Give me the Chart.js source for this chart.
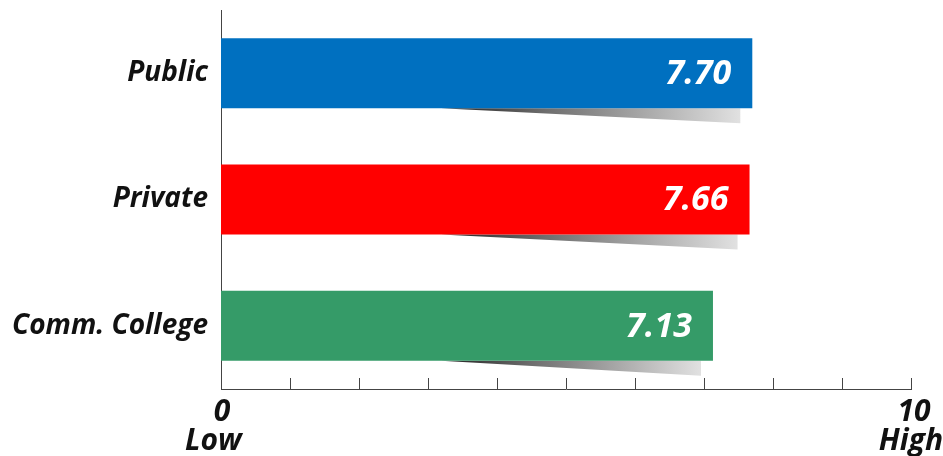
<!DOCTYPE html>
<html>
<head>
<meta charset="utf-8">
<script src="https://cdn.jsdelivr.net/npm/chart.js@4"></script>
<style>
  html, body { margin: 0; padding: 0; background: #fff; }
  #wrap { width: 943px; height: 456px; }
</style>
</head>
<body>
<div id="wrap"><canvas id="chart" width="943" height="456"></canvas></div>
<script>
const categories = ["Public", "Private", "Comm. College"];
const scores = [7.70, 7.66, 7.13];
const barColors = ["#0070C0", "#FF0000", "#359B68"];
const axisMin = 0;
const axisMax = 10;
const endLabels = [["0", "Low"], ["10", "High"]];

const FONT = "'Open Sans', 'DejaVu Sans', sans-serif";

// grey wedge under each bar, plus value text inside bar end
const barDecor = {
    id: "barDecor",
    beforeDatasetsDraw(chart) {
        const ctx = chart.ctx;
        const area = chart.chartArea;
        chart.getDatasetMeta(0).data.forEach(bar => {
            const bottom = bar.y + bar.height / 2;
            const x0 = area.left + 220;
            const x1 = bar.x - 12;
            const g = ctx.createLinearGradient(x0, 0, x1, 0);
            g.addColorStop(0, "rgba(30,30,30,1)");
            g.addColorStop(0.35, "rgba(110,110,110,1)");
            g.addColorStop(1, "rgba(225,225,225,1)");
            ctx.save();
            ctx.fillStyle = g;
            ctx.beginPath();
            ctx.moveTo(x0, bottom);
            ctx.lineTo(x1, bottom);
            ctx.lineTo(x1, bottom + 15);
            ctx.closePath();
            ctx.fill();
            ctx.restore();
        });
    },
    afterDatasetsDraw(chart) {
        const ctx = chart.ctx;
        ctx.save();
        ctx.fillStyle = "#fff";
        ctx.textAlign = "right";
        ctx.textBaseline = "middle";
        ctx.font = "italic bold 34px " + FONT;
        chart.getDatasetMeta(0).data.forEach((bar, i) => {
            ctx.fillText(scores[i].toFixed(2), bar.x - 21, bar.y + 1);
        });
        ctx.restore();
    },
    afterDraw(chart) {
        const ctx = chart.ctx;
        const xs = chart.scales.x;
        const bottom = chart.chartArea.bottom;
        ctx.save();
        ctx.strokeStyle = "#444";
        ctx.lineWidth = 1;
        for (let v = axisMin + 1; v <= axisMax; v++) {
            const px = Math.round(xs.getPixelForValue(v)) + 0.5;
            ctx.beginPath();
            ctx.moveTo(px, bottom);
            ctx.lineTo(px, bottom - 11);
            ctx.stroke();
        }
        ctx.fillStyle = "#111";
        ctx.font = "italic bold 30px " + FONT;
        ctx.textBaseline = "alphabetic";
        const p0 = xs.getPixelForValue(axisMin);
        const p1 = xs.getPixelForValue(axisMax);
        ctx.textAlign = "center";
        ctx.fillText(endLabels[0][0], p0 + 1, bottom + 32);
        ctx.fillText(endLabels[1][0], p1 + 3, bottom + 32);
        ctx.textAlign = "left";
        ctx.fillText(endLabels[0][1], p0 - 36, bottom + 61);
        ctx.textAlign = "right";
        ctx.fillText(endLabels[1][1], p1 + 32, bottom + 61);
        ctx.restore();
    }
};

new Chart(document.getElementById("chart"), {
    type: "bar",
    data: {
        labels: categories,
        datasets: [{
            data: scores,
            backgroundColor: barColors,
            barPercentage: 0.554,
            categoryPercentage: 1.0
        }]
    },
    options: {
        indexAxis: "y",
        responsive: false,
        animation: false,
        layout: { padding: { top: 10, right: 32, left: 0, bottom: 0 } },
        plugins: {
            legend: { display: false },
            tooltip: { enabled: false }
        },
        scales: {
            x: {
                min: axisMin,
                max: axisMax,
                grid: { display: false },
                border: { display: true, color: "#444", width: 1 },
                ticks: { display: false },
                afterFit(scale) {
                    scale.height = 67;
                    scale.paddingLeft = 0;
                    scale.paddingRight = 0;
                }
            },
            y: {
                grid: { display: false },
                border: { display: true, color: "#444", width: 1 },
                ticks: {
                    color: "#111",
                    padding: 5,
                    font: { family: FONT, size: 28, style: "italic", weight: "bold" }
                },
                afterFit(scale) {
                    scale.width = 221;
                    scale.paddingTop = 0;
                    scale.paddingBottom = 0;
                }
            }
        }
    },
    plugins: [barDecor]
});
</script>
</body>
</html>
